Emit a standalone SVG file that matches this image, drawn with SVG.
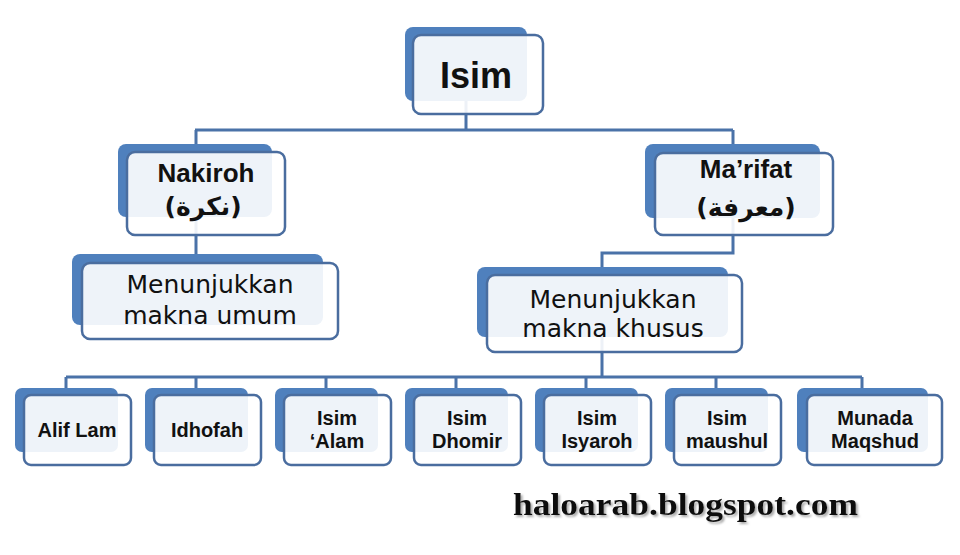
<svg xmlns="http://www.w3.org/2000/svg" width="960" height="555" viewBox="0 0 960 555">
<style>
.back{fill:#4f80bd}
.front{fill:#ffffff;fill-opacity:0.9;stroke:#4a6d9f;stroke-width:2.5}
.conn{stroke:#4a72a8;stroke-width:3;fill:none}
.b{font-family:"Liberation Sans",Arial,sans-serif;font-weight:bold;fill:#111;text-anchor:middle}
.r{font-family:"DejaVu Sans",sans-serif;fill:#111;text-anchor:middle;font-size:25px}
.ar{font-family:"DejaVu Sans",sans-serif;font-weight:bold;fill:#111;text-anchor:middle;font-size:25px}
.s{font-size:20px}
</style>
<defs>
<filter id="shadow" x="-5%" y="-30%" width="110%" height="160%">
<feDropShadow dx="2" dy="2" stdDeviation="1.2" flood-color="#888" flood-opacity="0.7"/>
</filter>
</defs>
<rect width="960" height="555" fill="#ffffff"/>
<g id="connectors">
<path class="conn" d="M466,100 V130 M195,130 H733 M196,130 V254 M733,130 V253 H602 V267"/>
<path class="conn" d="M602,337 V377 M66,377 H862 M66,377 V388 M196,377 V388 M326,377 V388 M456,377 V388 M586,377 V388 M716,377 V388 M862,377 V388"/>
</g>
<g id="isim">
<rect class="back" x="405" y="27" width="122" height="74" rx="8"/>
<rect class="front" x="413" y="35" width="130" height="79" rx="8"/>
<text class="b" x="476" y="88" font-size="36">Isim</text>
</g>
<g id="nakiroh">
<rect class="back" x="118" y="144" width="154" height="73" rx="8"/>
<rect class="front" x="127" y="152" width="158" height="83" rx="8"/>
<text class="b" x="206" y="182" font-size="26">Nakiroh</text>
<text class="ar" x="203" y="215">(نكرة)</text>
</g>
<g id="marifat">
<rect class="back" x="645" y="144" width="175" height="74" rx="8"/>
<rect class="front" x="655" y="153" width="178" height="82" rx="8"/>
<text class="b" x="746" y="178" font-size="26">Ma’rifat</text>
<text class="ar" x="746" y="216">(معرفة)</text>
</g>
<g id="umum">
<rect class="back" x="72" y="254" width="251" height="71" rx="8"/>
<rect class="front" x="82" y="263" width="256" height="76" rx="8"/>
<text class="r" x="210" y="293">Menunjukkan</text>
<text class="r" x="210" y="324">makna umum</text>
</g>
<g id="khusus">
<rect class="back" x="477" y="267" width="251" height="70" rx="8"/>
<rect class="front" x="487" y="275" width="255" height="77" rx="8"/>
<text class="r" x="613" y="308">Menunjukkan</text>
<text class="r" x="613" y="337">makna khusus</text>
</g>
<g id="alif-lam">
<rect class="back" x="15" y="388" width="103" height="64" rx="7"/>
<rect class="front" x="24" y="395" width="107" height="70" rx="7"/>
<text class="b s" x="77" y="437">Alif Lam</text>
</g>
<g id="idhofah">
<rect class="back" x="145" y="388" width="103" height="64" rx="7"/>
<rect class="front" x="154" y="395" width="107" height="70" rx="7"/>
<text class="b s" x="207" y="437">Idhofah</text>
</g>
<g id="isim-alam">
<rect class="back" x="275" y="388" width="103" height="64" rx="7"/>
<rect class="front" x="284" y="395" width="107" height="70" rx="7"/>
<text class="b s" x="337" y="425">Isim</text>
<text class="b s" x="337" y="448">‘Alam</text>
</g>
<g id="isim-dhomir">
<rect class="back" x="405" y="388" width="103" height="64" rx="7"/>
<rect class="front" x="414" y="395" width="107" height="70" rx="7"/>
<text class="b s" x="467" y="425">Isim</text>
<text class="b s" x="467" y="448">Dhomir</text>
</g>
<g id="isim-isyaroh">
<rect class="back" x="535" y="388" width="103" height="64" rx="7"/>
<rect class="front" x="544" y="395" width="107" height="70" rx="7"/>
<text class="b s" x="597" y="425">Isim</text>
<text class="b s" x="597" y="448">Isyaroh</text>
</g>
<g id="isim-maushul">
<rect class="back" x="665" y="388" width="103" height="64" rx="7"/>
<rect class="front" x="674" y="395" width="107" height="70" rx="7"/>
<text class="b s" x="727" y="425">Isim</text>
<text class="b s" x="727" y="448">maushul</text>
</g>
<g id="munada-maqshud">
<rect class="back" x="797" y="388" width="131" height="64" rx="7"/>
<rect class="front" x="807" y="395" width="135" height="70" rx="7"/>
<text class="b s" x="875" y="425">Munada</text>
<text class="b s" x="875" y="448">Maqshud</text>
</g>
<g id="watermark">
<text x="513" y="515" fill="#111" font-family="'Liberation Serif','Times New Roman',serif" font-weight="bold" font-size="31" textLength="345" lengthAdjust="spacingAndGlyphs" filter="url(#shadow)">haloarab.blogspot.com</text>
</g>
</svg>
